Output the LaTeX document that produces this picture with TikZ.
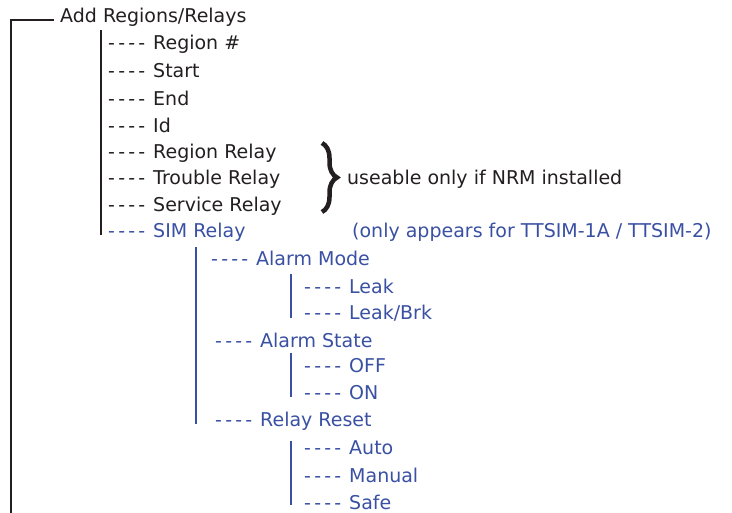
\documentclass[tikz,border=0pt]{standalone}
\usepackage{fontspec}
\setmainfont{DejaVu Sans}[Ligatures=TeXOff]
\usetikzlibrary{positioning,decorations.pathreplacing}
\definecolor{ink}{HTML}{231F20}
\definecolor{simblue}{HTML}{3A50A2}
\newcommand{\ticks}{\makebox[37pt][s]{-\hfill-\hfill-\hfill-}\hspace{8pt}}
\begin{document}
\begin{tikzpicture}[x=1pt, y=-1pt,
        every node/.style={anchor=west, inner sep=0pt, font=\fontsize{19}{22}\selectfont},
        item/.style={text=ink},
        simitem/.style={text=simblue},
        trunk/.style={ink, line width=2pt},
        branch/.style={simblue, line width=2pt}]
        \useasboundingbox (0,0) rectangle (732,513);

        % top level
        \node[item] (root) at (60,17) {Add Regions/Relays};
        \coordinate (rtop) at (11,20);
        \coordinate (rbot) at (11,513);
        \draw[trunk] (rbot) -- (rtop) -- ([xshift=-6pt]root.west |- rtop);

        % region menu
        \node[item] (num) at (108,44) {\ticks Region \#};
        \node[item] (start) at (108,71) {\ticks Start};
        \node[item] (end) at (108,98) {\ticks End};
        \node[item] (id) at (108,125) {\ticks Id};
        \node[item] (regrelay) at (108,153) {\ticks Region Relay};
        \node[item] (troublerelay) at (108,179) {\ticks Trouble Relay};
        \node[item] (servicerelay) at (108,206) {\ticks Service Relay};
        \node[simitem] (simrelay) at (108,232) {\ticks SIM Relay};
        \coordinate (mtop) at (101,30);
        \coordinate (mbot) at (101,235);
        \draw[trunk] (mtop) -- (mbot);

        % notes
        \coordinate (btop) at (322,143);
        \coordinate (bbot) at (322,212);
        \draw[ink, line width=4.5pt, decorate, decoration={brace, amplitude=15pt, aspect=0.5}] (btop) -- (bbot);
        \node[item] (nrm) at (347,179) {useable only if NRM installed};
        \node[simitem] (ttsim) at (352,232) {(only appears for TTSIM-1A / TTSIM-2)};

        % SIM relay menu
        \node[simitem] (mode) at (211,258) {\ticks Alarm Mode};
        \node[simitem] (leak) at (304,286) {\ticks Leak};
        \node[simitem] (leakbrk) at (304,313) {\ticks Leak/Brk};
        \node[simitem] (state) at (215,340) {\ticks Alarm State};
        \node[simitem] (off) at (304,366) {\ticks OFF};
        \node[simitem] (on) at (304,393) {\ticks ON};
        \node[simitem] (reset) at (215,421) {\ticks Relay Reset};
        \node[simitem] (auto) at (304,448) {\ticks Auto};
        \node[simitem] (manual) at (304,475) {\ticks Manual};
        \node[simitem] (safe) at (304,502) {\ticks Safe};
        \coordinate (stop) at (196,247);
        \coordinate (sbot) at (196,424);
        \draw[branch] (stop) -- (sbot);
        \coordinate (m1) at (291,274);
        \coordinate (m2) at (291,318);
        \coordinate (s1) at (291,353);
        \coordinate (s2) at (291,397);
        \coordinate (r1) at (291,441);
        \coordinate (r2) at (291,505);
        \draw[branch] (m1) -- (m2);
        \draw[branch] (s1) -- (s2);
        \draw[branch] (r1) -- (r2);
\end{tikzpicture}
\end{document}
